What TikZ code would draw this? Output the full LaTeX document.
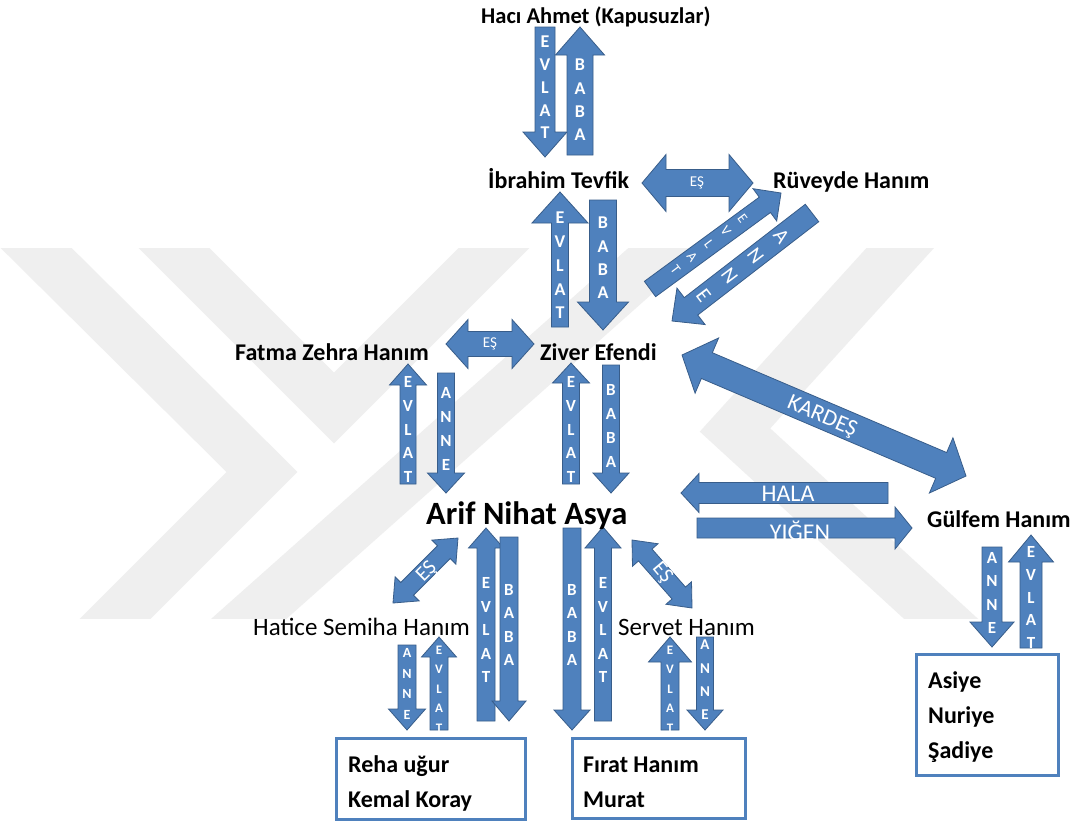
\documentclass[tikz,border=0pt]{standalone}
\usepackage{fontspec}
\setmainfont{Carlito}
\usetikzlibrary{calc}
\definecolor{ablue}{HTML}{4F81BD}
\definecolor{aline}{HTML}{385D8A}
\definecolor{wm}{HTML}{EFEFEF}
\tikzset{
  blk/.style={fill=ablue, draw=aline, line width=0.8pt, line join=miter},
  wmk/.style={draw=wm, line width=50pt, line join=miter},
  nm/.style={anchor=base west, inner sep=0pt, text=black, font=\fontsize{24}{28}\selectfont\bfseries},
  nmr/.style={anchor=base west, inner sep=0pt, text=black, font=\fontsize{25}{29}\selectfont},
  stk/.style={text=white, inner sep=0pt, align=center},
  lbl/.style={text=white, inner sep=0pt},
  famebox/.style={draw=ablue, line width=3pt, fill=white, inner sep=0pt}
}
% single block arrow: name, start, end, half shaft, half head, head length
\newcommand\SArrow[6]{%
  \coordinate (#1-s) at #2;
  \coordinate (#1-e) at #3;
  \coordinate (#1-c) at ($(#1-e)!#6pt!(#1-s)$);
  \draw[blk] ($(#1-s)!#4pt!90:(#1-e)$) -- ($(#1-c)!#4pt!-90:(#1-s)$) -- ($(#1-c)!#5pt!-90:(#1-s)$) -- (#1-e) -- ($(#1-c)!#5pt!90:(#1-s)$) -- ($(#1-c)!#4pt!90:(#1-s)$) -- ($(#1-s)!#4pt!-90:(#1-e)$) -- cycle;
}
% double block arrow
\newcommand\DArrow[6]{%
  \coordinate (#1-s) at #2;
  \coordinate (#1-e) at #3;
  \coordinate (#1-cs) at ($(#1-s)!#6pt!(#1-e)$);
  \coordinate (#1-ce) at ($(#1-e)!#6pt!(#1-s)$);
  \draw[blk] (#1-s) -- ($(#1-cs)!#5pt!90:(#1-e)$) -- ($(#1-cs)!#4pt!90:(#1-e)$) -- ($(#1-ce)!#4pt!-90:(#1-s)$) -- ($(#1-ce)!#5pt!-90:(#1-s)$) -- (#1-e) -- ($(#1-ce)!#5pt!90:(#1-s)$) -- ($(#1-ce)!#4pt!90:(#1-s)$) -- ($(#1-cs)!#4pt!-90:(#1-e)$) -- ($(#1-cs)!#5pt!-90:(#1-e)$) -- cycle;
}
\newcommand\Stk[6][]{\node[stk, font=\fontsize{#4}{#5}\selectfont\bfseries, #1] (#2) at #3 {#6};}
\begin{document}
\begin{tikzpicture}[x=1pt, y=-1pt]
\fill[white] (0,0) rectangle (1083,822);
\useasboundingbox (0,0) rectangle (1083,822);
% watermark
\begin{scope}
  \clip (0,248) rectangle (1083,618);
  \draw[wmk] (12,224) -- (262,472) -- (88,646);
  \draw[wmk] (150,224) -- (334,408) -- (518,224);
  \draw[wmk] (693,224) -- (225,640);
  \draw[wmk] (922,224) -- (735,430) -- (975,650);
\end{scope}
% arrows
\SArrow{a1}{(545,27)}{(545,157)}{10}{22}{25}
\SArrow{a2}{(580,155)}{(580,27)}{13}{24.5}{28}
\DArrow{a3}{(642,183)}{(753,183)}{13.5}{28.5}{24}
\SArrow{a4}{(560,327)}{(560,192)}{8.5}{28}{31}
\SArrow{a5}{(603,200)}{(603,330)}{13.5}{25.5}{28}
\SArrow{a6}{(650,289)}{(781,193)}{9.5}{20}{20}
\SArrow{a7}{(812,213)}{(672,321)}{11}{23}{24}
\DArrow{a8}{(446,344)}{(534,344)}{12.5}{24.5}{22}
\SArrow{a9}{(408,484)}{(408,364)}{8}{18.5}{21}
\SArrow{a10}{(446,373)}{(446,493)}{8.5}{18.5}{20}
\SArrow{a11}{(571,484)}{(571,363)}{8.5}{18.5}{20}
\SArrow{a12}{(611,365)}{(611,493)}{8.5}{18}{20}
\DArrow{a13}{(682,355)}{(966,476)}{14}{30}{27}
\SArrow{a14}{(888,493)}{(681,493)}{10.5}{19.5}{18}
\SArrow{a15}{(697,528)}{(912,528)}{10}{21}{17}
\SArrow{a16}{(992,547)}{(992,647)}{10}{22}{25}
\SArrow{a17}{(1031,648)}{(1031,535)}{11}{22.5}{27}
\DArrow{a18}{(458,538)}{(393,603)}{9}{17}{20}
\SArrow{a19}{(486,721)}{(486,528)}{9}{17.5}{20}
\SArrow{a20}{(509,537)}{(509,721)}{9}{17}{20}
\SArrow{a21}{(407,645)}{(407,730)}{9}{18.5}{21}
\SArrow{a22}{(439,730)}{(439,637)}{9}{17.5}{20}
\SArrow{a23}{(572,528)}{(572,730)}{9}{18}{20}
\SArrow{a24}{(603,721)}{(603,527)}{8.5}{18}{21}
\DArrow{a25}{(632,540)}{(692,608)}{9}{17}{20}
\SArrow{a26}{(670,730)}{(670,637)}{9}{21.5}{25}
\SArrow{a27}{(705,637)}{(705,730)}{8.5}{18}{20}
% arrow letters
\Stk{t1}{(545,87.5)}{18}{22.75}{E\\V\\L\\A\\T}
\Stk{t2}{(580,100)}{18}{23.3}{B\\A\\B\\A}
\node[lbl, font=\fontsize{15}{17}\selectfont] (t3) at (697,183) {EŞ};
\Stk{t4}{(560,265.5)}{18}{23.75}{E\\V\\L\\A\\T}
\Stk{t5}{(603,258)}{18}{23.3}{B\\A\\B\\A}
\node[stk, rotate=-53, font=\fontsize{14}{21}\selectfont] (t6) at (709,244) {E\\V\\L\\A\\T};
\node[stk, rotate=-53, font=\fontsize{21}{32.5}\selectfont] (t7) at (742.5,266) {A\\N\\N\\E};
\node[lbl, font=\fontsize{15}{17}\selectfont] (t8) at (490,344) {EŞ};
\Stk{t9}{(408,429.5)}{17}{23.75}{E\\V\\L\\A\\T}
\Stk{t10}{(446,429)}{17}{24}{A\\N\\N\\E}
\Stk{t11}{(571,429.5)}{17}{23.75}{E\\V\\L\\A\\T}
\Stk{t12}{(611,426)}{17}{24}{B\\A\\B\\A}
\node[lbl, rotate=-23, font=\fontsize{23}{26}\selectfont] (t13) at (822,417) {KARDEŞ};
\node[lbl, font=\fontsize{24}{26}\selectfont] (t14) at (788,494) {HALA};
\node[lbl, font=\fontsize{24}{26}\selectfont] (t15) at (800,531) {YIĞEN};
\Stk{t16}{(992,593)}{17}{23.3}{A\\N\\N\\E}
\Stk{t17}{(1031,597.5)}{17}{22.75}{E\\V\\L\\A\\T}
\node[lbl, rotate=45, font=\fontsize{21}{23}\selectfont] (t18) at (427,572) {EŞ};
\Stk{t19}{(486,630)}{17}{23.5}{E\\V\\L\\A\\T}
\Stk{t20}{(509,625)}{17}{23.3}{B\\A\\B\\A}
\Stk{t21}{(407,684)}{14}{20.7}{A\\N\\N\\E}
\Stk{t22}{(439,689)}{13}{19.5}{E\\V\\L\\A\\T}
\Stk{t23}{(572,625)}{17}{23.3}{B\\A\\B\\A}
\Stk{t24}{(603,630)}{17}{23.5}{E\\V\\L\\A\\T}
\node[lbl, rotate=-50, font=\fontsize{21}{23}\selectfont] (t25) at (662,573) {EŞ};
\Stk{t26}{(670,689)}{13}{19.5}{E\\V\\L\\A\\T}
\Stk{t27}{(705,680)}{15}{23.3}{A\\N\\N\\E}
% person names
\node[nm, font=\fontsize{22.5}{26}\selectfont\bfseries] (haci) at (481,23.5) {Hacı Ahmet (Kapusuzlar)};
\node[nm] (ibrahim) at (488,188) {İbrahim Tevfik};
\node[nm] (ruveyde) at (773,188) {Rüveyde Hanım};
\node[nm] (fatma) at (235,360) {Fatma Zehra Hanım};
\node[nm] (ziver) at (540,360) {Ziver Efendi};
\node[nm, font=\fontsize{32.5}{36}\selectfont\bfseries] (arif) at (426,524) {Arif Nihat Asya};
\node[nm] (gulfem) at (927,527) {Gülfem Hanım};
\node[nmr] (hatice) at (253,635) {Hatice Semiha Hanım};
\node[nmr] (servet) at (618,635) {Servet Hanım};
% boxes
\node[famebox, minimum width=189pt, minimum height=81pt] (box1) at (430.5,778.5) {};
\node[famebox, minimum width=173pt, minimum height=80pt] (box2) at (658.5,778) {};
\node[famebox, minimum width=142pt, minimum height=121pt] (box3) at (987,714.5) {};
\node[nm] (reha) at (348,772) {Reha uğur};
\node[nm] (kemal) at (348,807) {Kemal Koray};
\node[nm] (firat) at (583,772) {Fırat Hanım};
\node[nm] (murat) at (583,807) {Murat};
\node[nm] (asiye) at (928,688) {Asiye};
\node[nm] (nuriye) at (928,723) {Nuriye};
\node[nm] (sadiye) at (928,758) {Şadiye};
\end{tikzpicture}
\end{document}
